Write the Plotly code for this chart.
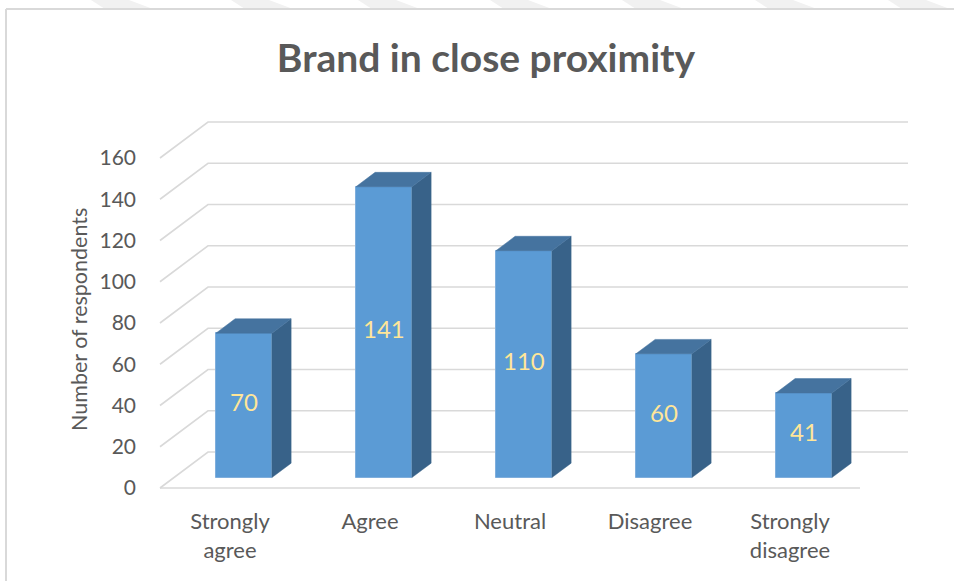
import plotly.graph_objects as go

# ---------------- data ----------------
categories = ["Strongly agree", "Agree", "Neutral", "Disagree", "Strongly disagree"]
tick_text = ["Strongly<br>agree", "Agree", "Neutral", "Disagree", "Strongly<br>disagree"]
values = [70, 141, 110, 60, 41]
y_ticks = [0, 20, 40, 60, 80, 100, 120, 140, 160]
y_title = "Number of respondents"
chart_title = "Brand in close proximity"

# ---------------- geometry / style ----------------
W, H = 954, 581
PL, PR, PT, PB = 158, 912, 115, 492          # plot area in pixels
PX_PER_X = 140.0                              # px per category
PX_PER_Y = 2.0625                             # px per unit value
FRONT_LEFT_PX = 160                           # front-left corner of floor
ZERO_PX = 488                                 # y pixel of value 0 (front)
DEPTH_DX_PX, DEPTH_DY_PX = 48, 36             # oblique depth offset (px)
FLOOR_FRONT_RIGHT_PX = 860
BACK_RIGHT_PX = 908

DX = DEPTH_DX_PX / PX_PER_X                   # depth in x data units
DY = DEPTH_DY_PX / PX_PER_Y                   # depth in y data units
x_min = -0.5 - (FRONT_LEFT_PX - PL) / PX_PER_X
x_max = x_min + (PR - PL) / PX_PER_X
y_min = -(PB - ZERO_PX) / PX_PER_Y
y_max = (ZERO_PX - PT) / PX_PER_Y
x_front_left = -0.5
x_front_right = x_min + (FLOOR_FRONT_RIGHT_PX - PL) / PX_PER_X
x_back_right = x_min + (BACK_RIGHT_PX - PL) / PX_PER_X

BAR_W = 0.4          # fraction of category
BAR_F = 0.29         # depth position of bar front
BAR_D = 0.4          # bar depth fraction

FRONT_C = "#5B9BD5"
TOP_C = "#45739F"
SIDE_C = "#386289"
GRID_C = "#D9D9D9"
TEXT_C = "#595959"
LABEL_C = "#FFE699"
FONT = "Lato"

fig = go.Figure()

# gridlines (oblique) as shapes below the bars
shapes = []
for v in y_ticks:
    path = f"M {x_front_left},{v} L {x_front_left + DX},{v + DY} L {x_back_right},{v + DY}"
    shapes.append(dict(type="path", path=path, xref="x", yref="y", layer="below",
                       line=dict(color=GRID_C, width=1.6)))
shapes.append(dict(type="line", xref="x", yref="y", x0=x_front_left, y0=0,
                   x1=x_front_right, y1=0, layer="below",
                   line=dict(color=GRID_C, width=1.6)))

# front faces of bars
xs = [i + BAR_F * DX for i in range(len(values))]
base = BAR_F * DY
fig.add_trace(go.Bar(
    x=xs, y=values, base=[base] * len(values), width=BAR_W,
    marker=dict(color=FRONT_C, line=dict(color="#7FAEDC", width=1)),
    hoverinfo="skip", showlegend=False,
))

# side and top faces
for xc, v in zip(xs, values):
    xl, xr = xc - BAR_W / 2, xc + BAR_W / 2
    ddx, ddy = BAR_D * DX, BAR_D * DY
    fig.add_trace(go.Scatter(
        x=[xr, xr, xr + ddx, xr + ddx, xr],
        y=[base, base + v, base + v + ddy, base + ddy, base],
        fill="toself", fillcolor=SIDE_C, mode="lines",
        line=dict(color=SIDE_C, width=0.5), hoverinfo="skip", showlegend=False))
    fig.add_trace(go.Scatter(
        x=[xl, xr, xr + ddx, xl + ddx, xl],
        y=[base + v, base + v, base + v + ddy, base + v + ddy, base + v],
        fill="toself", fillcolor=TOP_C, mode="lines",
        line=dict(color=TOP_C, width=0.5), hoverinfo="skip", showlegend=False))

# data labels
fig.add_trace(go.Scatter(
    x=xs, y=[base + v / 2 for v in values], mode="text",
    text=[str(v) for v in values],
    textfont=dict(family=FONT, size=24, color=LABEL_C),
    hoverinfo="skip", showlegend=False))

# chart border + watermark stripes (paper coordinates)
def px2paper_x(px):
    return (px - PL) / (PR - PL)

def px2paper_y(py):
    return (PB - py) / (PB - PT)

for x0 in [91, 231, 358, 490, 622, 755, 888]:
    p = (f"M {px2paper_x(x0)},{px2paper_y(0)} L {px2paper_x(x0 + 38)},{px2paper_y(0)} "
         f"L {px2paper_x(x0 + 62)},{px2paper_y(9)} L {px2paper_x(x0 + 14)},{px2paper_y(9)} Z")
    shapes.append(dict(type="path", path=p, xref="paper", yref="paper", layer="below",
                       fillcolor="#F1F1F1", line=dict(width=0)))
shapes.append(dict(type="line", xref="paper", yref="paper",
                   x0=px2paper_x(6), y0=px2paper_y(9), x1=px2paper_x(960), y1=px2paper_y(9),
                   line=dict(color=GRID_C, width=2)))
shapes.append(dict(type="line", xref="paper", yref="paper",
                   x0=px2paper_x(6), y0=px2paper_y(9), x1=px2paper_x(6), y1=px2paper_y(590),
                   line=dict(color=GRID_C, width=2)))

fig.update_layout(
    width=W, height=H, autosize=False,
    margin=dict(l=PL, r=W - PR, t=PT, b=H - PB, pad=0),
    paper_bgcolor="white", plot_bgcolor="white",
    shapes=shapes,
    bargap=0,
    title=dict(text=f"<b>{chart_title}</b>", x=486 / W, xref="container",
               xanchor="center", y=1 - 58 / H, yref="container", yanchor="middle",
               font=dict(family=FONT, size=39, color=TEXT_C)),
    annotations=[dict(text=y_title, textangle=-90, xref="paper", yref="paper",
                      x=px2paper_x(79), y=px2paper_y(320), xanchor="center",
                      yanchor="middle", showarrow=False,
                      font=dict(family=FONT, size=21.5, color=TEXT_C))],
    xaxis=dict(range=[x_min, x_max], tickvals=list(range(len(categories))),
               ticktext=tick_text, showgrid=False, zeroline=False, showline=False,
               ticks="", ticklabelstandoff=14,
               tickfont=dict(family=FONT, size=22, color=TEXT_C), fixedrange=True),
    yaxis=dict(range=[y_min, y_max], tickvals=y_ticks, showgrid=False, zeroline=False,
               showline=False, ticks="", ticklabelstandoff=21,
               tickfont=dict(family=FONT, size=21, color=TEXT_C),
               fixedrange=True),
)

fig.write_html("out.html")
